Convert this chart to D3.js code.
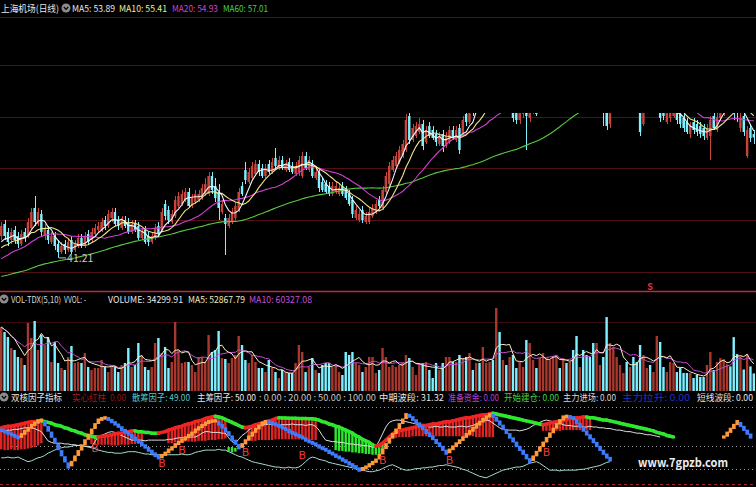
<!DOCTYPE html>
<html><head><meta charset="utf-8">
<script src="https://cdn.jsdelivr.net/npm/d3@7/dist/d3.min.js"></script>
<style>
html,body{margin:0;padding:0;background:#000;overflow:hidden}
svg{display:block}
text{font-family:"Liberation Sans Narrow","Noto Sans CJK SC","Liberation Sans",sans-serif}
</style></head><body>
<svg id="chart" width="756" height="487"></svg>
<script>
// ---------- daily candles: 上海机场 ----------
const opens = [
43.4,44.6,43.8,43.0,44.0,43.4,42.6,43.8,43.4,44.2,
46.2,44.6,45.6,43.4,44.0,42.8,43.4,42.6,41.8,42.6,
42.0,43.0,42.0,42.4,43.2,42.4,43.6,43.0,43.6,44.0,
44.0,45.0,44.4,45.2,45.8,45.0,44.2,45.0,44.8,43.8,
44.6,44.4,43.2,44.0,43.4,42.8,43.2,44.4,44.0,46.6,
46.0,44.8,45.4,46.4,46.6,47.0,47.8,46.4,46.8,47.0,
47.2,47.6,47.6,49.4,48.4,47.8,45.8,45.2,44.4,44.8,
45.2,46.0,48.4,50.0,48.8,49.2,49.6,50.6,50.2,49.4,
50.6,49.8,51.2,50.2,51.0,50.0,50.8,50.4,49.6,49.8,
49.4,51.4,50.0,50.6,49.2,49.8,48.8,48.6,48.4,47.6,
47.8,47.6,48.4,48.0,47.6,47.0,45.2,45.0,46.0,44.8,
44.8,45.4,45.8,47.0,46.2,47.8,48.6,50.0,50.4,50.8,
51.4,52.0,55.4,53.0,53.4,53.8,54.6,52.8,54.4,54.0,
53.6,52.6,53.6,52.4,52.8,54.0,53.0,54.2,53.6,55.6,
54.8,56.6,56.0,57.8,57.0,58.0,58.2,59.2,57.8,59.0,
57.0,57.8,56.2,57.0,56.2,55.0,55.6,56.6,55.2,56.0,
57.0,56.0,57.0,57.6,58.2,58.6,60.2,61.2,60.0,61.4,
60.4,62.0,61.6,60.2,61.4,60.6,60.0,59.4,58.2,58.8,
58.6,57.0,54.6,57.8,58.8,59.4,59.8,60.8,59.6,60.4,
59.4,57.0,54.6,56.0,57.4,56.6,56.0,57.4,56.2,54.8,
55.2,55.4,56.2,55.6,55.2,54.8,53.6,54.8,54.6,54.4,
54.2,53.2,53.4,55.4,54.0,55.2,55.8,56.6,57.8,57.4,
57.0,54.2,55.4,51.4,54.2,53.6];
const closes = [
44.4,43.4,42.8,43.8,43.0,42.6,43.6,43.2,44.8,45.8,
44.8,45.8,43.8,44.2,43.0,43.4,42.4,41.8,42.4,42.0,
42.8,41.8,42.6,43.2,42.4,43.4,42.8,43.8,44.2,44.4,
44.8,44.4,45.6,45.8,44.6,44.4,45.0,44.4,43.8,44.6,
44.0,43.2,43.8,42.8,42.8,43.4,44.2,43.6,45.8,45.4,
45.0,45.6,47.0,47.4,47.6,47.8,46.4,47.2,47.6,47.6,
48.2,48.6,49.4,48.0,47.2,46.2,46.6,44.6,45.2,45.8,
46.4,47.8,47.6,49.0,49.8,50.4,50.6,49.8,49.4,50.2,
49.8,50.8,50.4,51.0,50.2,50.6,50.0,49.8,50.4,51.0,
51.4,50.2,51.0,49.4,49.8,48.2,48.0,47.8,47.6,48.4,
48.4,48.2,47.6,47.2,46.6,45.6,46.0,45.6,45.0,45.4,
45.8,46.2,46.6,46.4,48.0,49.4,50.4,51.0,51.4,52.0,
52.6,55.0,53.0,54.2,54.4,54.6,52.4,54.0,53.4,53.2,
52.8,53.4,52.4,53.4,54.0,53.2,54.0,52.0,55.0,54.8,
56.2,55.8,57.4,57.0,58.4,58.8,59.2,58.2,59.0,57.4,
57.8,56.6,57.0,55.2,55.0,56.2,56.6,55.4,56.6,57.0,
55.6,57.4,58.0,58.6,59.0,59.4,61.0,60.2,61.2,60.4,
61.6,60.8,60.2,61.2,60.2,59.6,59.0,58.2,59.2,59.6,
56.6,54.4,56.0,59.0,59.8,60.2,60.6,59.8,60.4,59.2,
58.4,53.8,56.0,57.2,56.6,57.6,57.4,55.2,55.4,55.8,
56.2,56.4,55.0,54.6,54.2,53.8,54.4,54.0,53.8,53.6,
53.4,54.2,55.0,54.2,55.3,56.6,57.0,57.6,57.0,56.6,
56.45,55.2,53.8,54.0,53.2,53.25];
const highs = [
44.8,45.0,44.2,44.2,44.4,43.8,44.0,44.2,45.2,46.2,
47.4,46.2,46.0,44.6,44.4,43.8,43.8,43.0,42.8,43.0,
43.2,43.4,43.0,43.6,43.6,43.8,44.0,44.2,44.6,44.8,
45.2,45.4,46.0,46.2,46.2,45.4,45.4,45.4,45.2,45.0,
45.0,44.8,44.2,44.4,43.8,43.8,44.6,44.8,46.2,47.0,
46.4,46.0,47.4,47.8,48.0,48.2,48.2,47.6,48.0,48.0,
48.6,49.2,49.8,49.8,49.2,48.6,47.0,45.6,45.6,46.2,
46.8,48.2,48.8,50.8,50.2,50.8,51.0,51.0,50.6,50.6,
51.0,51.2,52.2,51.4,51.4,51.0,51.2,50.8,50.8,51.4,
51.8,51.8,51.4,51.0,50.2,50.2,49.2,49.0,48.8,48.8,
48.8,48.6,48.8,48.4,48.0,47.4,46.4,46.0,46.4,45.8,
46.2,46.6,47.0,47.4,48.4,49.8,50.8,51.4,51.8,52.4,
53.0,55.6,56.4,54.6,54.8,55.2,55.0,54.4,54.8,54.4,
54.0,53.8,54.0,53.8,54.4,54.4,54.4,54.6,55.4,56.2,
56.6,57.2,57.8,58.4,58.8,59.2,59.6,59.6,59.6,59.4,
58.2,58.2,57.4,57.4,56.6,56.6,57.0,57.0,57.0,57.4,
57.4,57.8,58.4,59.0,59.4,59.8,61.4,61.6,61.6,61.8,
62.0,62.4,62.0,61.6,61.8,61.0,60.4,59.8,59.6,60.0,
59.0,57.6,56.6,59.4,60.2,60.6,61.0,61.2,60.8,60.8,
59.8,57.4,56.6,57.6,57.8,58.0,57.8,57.8,56.6,56.2,
56.6,56.8,56.6,56.0,55.6,55.2,54.8,55.2,55.0,54.8,
54.6,54.6,55.4,55.8,55.8,57.0,57.4,58.0,58.2,57.8,
57.4,57.0,56.0,54.4,54.6,54.0];
const lows = [
43.0,43.0,42.4,42.6,42.6,42.2,42.4,42.8,43.2,44.0,
44.4,44.4,43.4,43.0,42.6,42.6,42.0,41.21,41.6,41.6,
41.8,41.6,41.8,42.2,42.2,42.2,42.6,42.8,43.4,43.8,
43.8,44.0,44.2,44.8,44.4,44.0,44.0,44.2,43.6,43.6,
43.8,43.0,43.0,42.6,42.4,42.6,43.0,43.4,43.8,45.0,
44.6,44.6,45.2,46.2,46.4,46.8,46.2,46.2,46.6,46.8,
47.0,47.4,47.4,47.6,46.8,45.0,45.6,41.5,44.2,44.6,
45.0,45.8,47.4,48.6,48.6,49.0,49.4,49.4,49.2,49.2,
49.6,49.6,50.2,50.0,50.0,49.8,49.8,49.6,49.4,49.4,
49.2,50.0,49.8,49.2,49.0,47.8,47.8,47.6,47.4,47.4,
47.6,47.4,47.4,47.0,46.4,45.2,45.0,44.8,44.7,44.6,
44.6,45.2,45.6,46.2,46.0,47.6,48.4,49.8,50.2,50.6,
51.2,51.8,52.6,52.8,53.2,53.6,52.0,52.6,53.2,53.0,
52.4,52.4,51.8,52.2,52.6,53.0,52.8,51.6,53.4,54.4,
54.6,55.4,55.8,56.6,56.6,57.6,57.8,57.8,57.4,57.0,
56.6,56.2,56.0,54.8,54.6,54.6,55.2,52.0,54.8,55.6,
55.4,55.8,56.6,57.2,57.8,58.2,59.8,59.8,59.6,60.0,
60.2,60.4,59.8,60.0,59.8,59.2,58.6,57.8,57.8,58.4,
54.4,54.0,54.2,57.4,58.4,59.0,59.4,59.4,59.2,58.8,
58.0,53.4,54.4,55.8,56.4,56.4,55.8,54.8,55.0,54.6,
54.8,55.2,54.6,54.2,53.8,53.6,53.2,53.6,53.4,53.2,
53.0,53.0,51.0,54.0,53.8,55.0,55.4,56.2,56.6,55.0,
54.8,53.8,53.4,51.2,52.8,52.6];
// closes of the 59 sessions before the first candle (feed the moving averages)
const priorCloses = [
38.2,38.5,38.1,37.8,38.0,38.4,38.6,38.3,37.9,37.6,37.8,38.1,38.5,38.8,38.6,38.2,37.9,38.0,38.3,38.7,
39.0,38.8,38.4,38.1,37.9,38.2,38.6,38.9,39.1,38.8,38.5,38.3,38.6,38.9,39.2,39.0,38.7,38.9,39.3,
39.1,38.9,39.3,39.7,39.5,40.0,40.4,40.1,40.5,40.9,40.7,41.2,41.6,41.3,41.8,42.2,42.0,42.5,42.8,42.4];
const volumes = [
124800,115050,105300,83850,79950,66300,64350,50700,132600,103350,
136500,79950,109200,89700,105300,56550,95550,54600,44850,40950,
66300,87750,54600,56550,54600,74100,46800,40950,44850,44850,
60450,46800,37050,50700,46800,37050,50700,54600,83850,46800,
50700,93600,70200,46800,40950,46800,93600,103350,74100,85800,
44850,56550,134550,79950,54600,56550,56550,50700,37050,66300,
66300,56550,109200,76050,79950,117000,64350,62400,54600,64350,
70200,107250,89700,60450,54600,70200,56550,44850,44850,37050,
60450,44850,37050,25350,40950,37050,35100,35100,54600,89700,
76050,37050,46800,64350,40950,35100,50700,54600,54600,46800,
50700,37050,31200,76050,70200,76050,54600,50700,37050,46800,
66300,66300,35100,40950,83850,66300,46800,50700,46800,50700,
56550,70200,64350,46800,31200,54600,54600,56550,40950,25350,
54600,40950,54600,66300,66300,56550,56550,70200,64350,66300,
74100,40950,54600,54600,85800,54600,56550,60450,161850,115050,
60450,50700,66300,70200,44850,56550,46800,99450,93600,60450,
44850,64350,74100,64350,60450,66300,70200,44850,64350,54600,
56550,79950,107250,46800,79950,70200,66300,93600,93600,50700,
66300,144300,93600,85800,66300,50700,35100,56550,46800,66300,
56550,89700,70200,44850,50700,37050,107250,95550,46800,37050,
56550,54600,37050,44850,35100,35100,35100,25350,31200,27300,
27300,50700,76050,40950,56550,64350,62000,52000,48000,105000,
71931.85,68000,42000,72000,48039.04,34299.91];

// ---------- 双核因子指标 ----------
const midWave = [
73,74,75,75,76,77,78,79,80,81,81,82,
82,81,80,79,77,76,75,73,
72,70,69,67,66,64,63,62,61,
61,62,62,63,64,65,66,66,67,68,69,
69,68,68,67,67,66,66,66,
67,68,70,71,73,74,75,77,78,79,81,82,83,85,86,87,88,
87,86,84,82,80,78,76,74,73,
74,75,77,78,79,81,82,83,85,86,
85.8,85.6,85.5,85.4,85.3,85.2,85.1,85,84.8,84.6,
84,83,81,80,78,77,75,74,72,70,
68,66,63,61,58,56,54,51,49,
50,53,57,61,65,68,
69,70,71,72,73,74,75,76,76,77,78,78,79,80,81,81,82,83,84,85,86,86,87,88,89,90,90,91,92,
91,90,89,88,87,86,85,84,83,82,81,80,79,78,77,
78,79,80,81,82,83,84,85,85,86,86,87,
87,86,86,85,84,83,83,82,81,80,79,78,77,76,75,74,73,72,71,70,69,67,66,65,63,62,61];
const whiteLine = [
68,69,70,70,71,71, 72,73,73,73, 72,70,68, 62,56,54,53, 53,53,52,52,51, 51,50,50,49,49,48,
55,61, 63,65,67,68,67, 65,63,61,59,57, 57,57,57,56,57,57,57,57,57,57,
58,58,59,60,60,60,61,61,61, 63,66,68, 68,67,67,67,66,66, 60,55,53, 58,63,66, 70,73,76,77,
77,77,78,77,77,76,77,77,77,78,77,77,77,76,77,77, 75,70,63, 57,56,55,55,54,54,53,
52,52,51,51,50,50,49,48,48, 56,65,74,80, 82,83,83,82,81, 80,79,78,77,76,75,
74,74,75,74,74,75,74,74,74,75,75,74,75,76,78, 80,82,83, 82,79,76,73,71,70,70,
70,70,69,70,71, 73,76,78,80,82,83, 82,81,80, 79,77,76,76,75,75,
75,74,74,75,74,74,73,73,72,72, 71,70,70,69,68,68,67,66,66,65,64,64,63,62,61];
const cyanLine = [
34,34,35,34,34,35, 33,31,29,30, 32,34,35, 37,40,42,44,46,47,48, 48,49,50,50,51,
49,48,47,46,44, 43,42,41,41,40,40, 40,41,42,42,42,41, 40,39,39,38,38,38,38,38,
38,38,38,38,39,38,38, 39,41,42,43,44, 44,44,44,45,44,44, 42,40,38,36,35,
33,31,29,28,27, 26,25,24,23,22,22, 21,21,22,21,21,22, 25,29,33,35, 34,32,31,30,
28,27,26,25,24, 23,22,21,20,19,18,17,16, 16,17,18,20, 22,24,25, 23,21,19,18,
18,19,20,20,21,21, 22,22,23,24,24,25, 24,23,22,21,19,18, 16,14,12,10,9,8,
10,12,14,16,18, 19,20,21,22,22, 23,25,27,28,29, 27,24,21,18,
18,18,17,18,18,18,18,18, 19,19,20,21,22, 23,24,26,28,29];
// 中期波段
const swingWave = [
70, 68,66,64,62,60, 64,68,72,76,79,82, 83, 77,70,62,54,46,38,30,22,
28,35,42,49,56,63,70,77,83, 85,86,
84,81,78,75,71,68,65,61,58,55,51,48,44,41,37,34,
37,40,44,47,51,54,57,60,63,66,70,73,76,79, 81,82,82,
78,74,69,64,58,53,47, 51,56,61,66,71,75,79,81,
80,79,77,75,73,71,68,66,64,62,60,57,55,53,51,48,46,44,41,39,36,34,31,29,26,24,21,18,
20,22,25,28,31, 37,44,51,58,64,70,77,83,90,
88,84,80,76,72,67,63,59,54,50,45,40,
44,48,52,56,60,64,68,72,76,80,84,87,90,
88,83,78,72,67,61,56,50,45,40,34,29,
35,41,47,53,59,65,71,77,82,87, 88,87,85,
80,75,70,65,60,55,50,45,40,35,31.32];
// 短线波段
const shortWaveStart = 216;
const shortWave = [61,66,71,76,81,76,71,66,61];
// histogram blocks; a block without "top" hangs from midWave
const histBlocks = [
  {kind:"red", start:0, bottom:[45,44,44,45,44,44,45,45,46,47,48,50,53]},
  {kind:"red", start:27, bottom:[52,52,51,51,51,51,50,50,50,51,51,51,52,52,52,53]},
  {kind:"red", start:50, bottom:[53,53,54,54,54,55,55,55,55,56,56,56,57,57,57,58,58,59]},
  {kind:"green", start:68, top:[48,48,47], bottom:[42,41,42]},
  {kind:"red", start:74, bottom:[56,56,56,57,57,57,57,57,58,58,58,58,58,58,58,58,58,58,58,57,57]},
  {kind:"green", start:100, bottom:[44,43,43,42,42,41,41,40,40,39,39,38,38,38,39]},
  {kind:"red", start:117, bottom:[60,60,61,61,61,61,62,62,62,62,62,62,62,62,62,62,62,62,62,62,62,62,62,62,62,61,61,61,61,61,61]},
  {kind:"red", start:162, bottom:[69,69,69,69,69,69,70,70,70,70,70,70,70,70,70]}
];
// buy signals: [bar index, level]
const buySignals = [[28,47],[48,27],[54,44],[73,42],[90,38],[114,31],[134,31],[163,42]];
const refLevels = [0, 20, 50, 100];
const priceGrid = [65.3, 60.5, 55.3, 50.2, 45.0, 39.8];

// ---------- drawing ----------
const svg = d3.select("#chart");
const W = 756, H = 487;
svg.append("rect").attr("width", W).attr("height", H).attr("fill", "#000");

const N = closes.length;
const xb = d3.scaleBand().domain(d3.range(N)).range([0, 755]).paddingInner(0.28);
const cx = i => xb(i) + xb.bandwidth() / 2;
const RED = "#c8443a", CYAN = "#7ff0ff";
const isUp = i => closes[i] >= opens[i];

const defs = svg.append("defs");
function clip(id, y, h) {
  defs.append("clipPath").attr("id", id).append("rect").attr("x", 0).attr("y", y).attr("width", W).attr("height", h);
  return "url(#" + id + ")";
}

// price panel
const yP = d3.scaleLinear().domain([39.5, 65]).range([275, 20]);
svg.append("g").selectAll("line").data(priceGrid).join("line")
  .attr("x1", 0).attr("x2", W).attr("y1", d => Math.round(yP(d)) + 0.5).attr("y2", d => Math.round(yP(d)) + 0.5)
  .attr("stroke", "#501014").attr("stroke-width", 1);

const gP = svg.append("g").attr("clip-path", clip("cp", 113, 176));
const candles = gP.selectAll("g").data(d3.range(N)).join("g");
candles.append("line")
  .attr("x1", i => Math.round(cx(i)) + 0.5).attr("x2", i => Math.round(cx(i)) + 0.5)
  .attr("y1", i => yP(highs[i])).attr("y2", i => yP(lows[i]))
  .attr("stroke", i => isUp(i) ? RED : CYAN).attr("stroke-width", 1);
candles.append("rect")
  .attr("x", i => xb(i)).attr("width", xb.bandwidth())
  .attr("y", i => yP(Math.max(opens[i], closes[i])))
  .attr("height", i => Math.max(1, Math.abs(yP(opens[i]) - yP(closes[i]))))
  .attr("fill", i => isUp(i) ? RED : CYAN);

const allCloses = priorCloses.concat(closes);
const off = priorCloses.length;
function priceMA(n) {
  return d3.range(N).map(i => d3.mean(allCloses.slice(i + off - n + 1, i + off + 1)));
}
const maDefs = [[60, "#58c840"], [20, "#d040d0"], [10, "#f0e68c"], [5, "#f4f4f4"]];
const lineP = d3.line().x((d, i) => cx(i)).y(d => yP(d));
maDefs.forEach(([n, col]) => {
  gP.append("path").attr("d", lineP(priceMA(n))).attr("fill", "none").attr("stroke", col).attr("stroke-width", 1.1);
});

// lowest low marker
const lowIdx = d3.minIndex(lows);
svg.append("line").attr("x1", cx(lowIdx) + 1).attr("x2", cx(lowIdx) + 8)
  .attr("y1", yP(lows[lowIdx])).attr("y2", yP(lows[lowIdx])).attr("stroke", "#c8c8c8");
svg.append("text").attr("x", cx(lowIdx) + 9).attr("y", yP(lows[lowIdx]) + 4)
  .attr("fill", "#c8c8c8").attr("font-size", 10.5).text(lows[lowIdx].toFixed(2));

// panel separator
svg.append("line").attr("x1", 0).attr("x2", W).attr("y1", 291.5).attr("y2", 291.5)
  .attr("stroke", "#c02848").attr("stroke-width", 1.5);
svg.append("text").attr("x", cx(194)).attr("y", 290).attr("text-anchor", "middle")
  .attr("fill", "#e03030").attr("font-size", 9).attr("font-weight", "bold").text("S");

// volume panel
const yV = d3.scaleLinear().domain([0, 171600]).range([391, 303]);
svg.append("line").attr("x1", 0).attr("x2", W).attr("y1", 322.5).attr("y2", 322.5).attr("stroke", "#3c0c0e");
const gV = svg.append("g").attr("clip-path", clip("cv", 303, 88));
gV.selectAll("rect").data(d3.range(N)).join("rect")
  .attr("x", xb).attr("width", xb.bandwidth())
  .attr("y", i => yV(volumes[i])).attr("height", i => yV(0) - yV(volumes[i]))
  .attr("fill", i => isUp(i) ? "#a8382e" : CYAN);
function volMA(n) {
  return d3.range(N).map(i => d3.mean(volumes.slice(Math.max(0, i - n + 1), i + 1)));
}
const lineV = d3.line().x((d, i) => cx(i)).y(d => yV(d));
gV.append("path").attr("d", lineV(volMA(10))).attr("fill", "none").attr("stroke", "#c050d0").attr("stroke-width", 1);
gV.append("path").attr("d", lineV(volMA(5))).attr("fill", "none").attr("stroke", "#f4f0c8").attr("stroke-width", 1);

// indicator panel
const yI = d3.scaleLinear().domain([0, 100]).range([484, 407]);
svg.append("g").selectAll("line").data(refLevels).join("line")
  .attr("x1", 0).attr("x2", W).attr("y1", d => Math.round(yI(d)) + 0.5).attr("y2", d => Math.round(yI(d)) + 0.5)
  .attr("stroke", d => d === 0 ? "#a02830" : "#9a9a9a")
  .attr("stroke-dasharray", d => d === 0 ? "3,3" : "1,3");
const gI = svg.append("g").attr("clip-path", clip("ci", 403, 84));
histBlocks.forEach(b => {
  b.bottom.forEach((bot, k) => {
    const i = b.start + k;
    const top = b.top ? b.top[k] : midWave[i];
    gI.append("rect").attr("x", xb(i)).attr("width", xb.bandwidth())
      .attr("y", yI(Math.max(top, bot))).attr("height", Math.abs(yI(top) - yI(bot)))
      .attr("fill", b.kind === "red" ? "#e02424" : "#2ee82e");
  });
});
const lineI = d3.line().x((d, i) => cx(i)).y(d => yI(d));
gI.append("path").attr("d", lineI(cyanLine)).attr("fill", "none").attr("stroke", "#a6dcd8").attr("stroke-width", 1);
gI.append("path").attr("d", lineI(whiteLine)).attr("fill", "none").attr("stroke", "#e0e0e0").attr("stroke-width", 1);

// thick trend line: red while rising, green while falling
let rising = true;
for (let i = 1; i < midWave.length; i++) {
  if (midWave[i] > midWave[i - 1]) rising = true; else if (midWave[i] < midWave[i - 1]) rising = false;
  gI.append("line").attr("x1", cx(i - 1)).attr("x2", cx(i)).attr("y1", yI(midWave[i - 1])).attr("y2", yI(midWave[i]))
    .attr("stroke", rising ? "#f02424" : "#2ee82e").attr("stroke-width", 3.5).attr("stroke-linecap", "round");
}
// stepped swing lines: a block per session, orange while rising, blue while falling
function drawSwing(vals, start) {
  const s = xb.step();
  for (let k = 0; k < vals.length; k++) {
    const up = k === 0 ? vals[1] >= vals[0] : vals[k] >= vals[k - 1];
    const col = up ? "#ff9a3a" : "#3d7cff";
    const i = start + k;
    const y0 = k === 0 ? yI(vals[k]) : yI(vals[k - 1]);
    const y1 = yI(vals[k]);
    gI.append("rect").attr("x", cx(i) - s / 2).attr("width", s + 0.3)
      .attr("y", Math.min(y0, y1) - 1.6).attr("height", Math.abs(y1 - y0) / 2 + 3.2)
      .attr("transform", up ? null : `translate(0,${Math.abs(y1 - y0) / 2})`)
      .attr("fill", col);
  }
}
drawSwing(swingWave, 0);
drawSwing(shortWave, shortWaveStart);
gI.selectAll("text.b").data(buySignals).join("text").attr("class", "b")
  .attr("x", d => cx(d[0])).attr("y", d => yI(d[1]) + 4).attr("text-anchor", "middle")
  .attr("fill", "#ff3a3a").attr("font-size", 11).attr("font-family", "Liberation Sans").text("B");

svg.append("text").attr("x", 638).attr("y", 467).attr("fill", "#ececec")
  .attr("font-size", 12.5).attr("font-weight", "bold").attr("font-family", "Liberation Sans")
  .attr("textLength", 90).attr("lengthAdjust", "spacingAndGlyphs")
  .text("www.7gpzb.com");

// ---------- header rows ----------
function icon(x, y) {
  svg.append("circle").attr("cx", x).attr("cy", y).attr("r", 4.5).attr("fill", "#8c8c8c");
  svg.append("path").attr("d", `M${x - 2.2},${y - 1} L${x},${y + 1.4} L${x + 2.2},${y - 1}`)
    .attr("fill", "none").attr("stroke", "#000").attr("stroke-width", 1.2);
}
function label(items, y) {
  const g = svg.append("g").attr("font-size", 9.5);
  items.forEach(([x, t, c, w, fs]) => g.append("text").attr("x", x).attr("y", y).attr("fill", c)
    .attr("font-size", fs || null)
    .attr("textLength", w).attr("lengthAdjust", "spacingAndGlyphs").text(t));
}
svg.append("rect").attr("x", 0).attr("y", 391).attr("width", W).attr("height", 12).attr("fill", "#000");
label([[1, "上海机场(日线)", "#e6e6e6", 58]], 12);
icon(66, 8);
label([[72, "MA5: 53.89", "#e6e6e6", 43], [119, "MA10: 55.41", "#ecec9c", 48], [172, "MA20: 54.93", "#d040d0", 46], [223, "MA60: 57.01", "#48d048", 45]], 12);
icon(4, 299);
label([[11, "VOL-TDX(5,10)", "#d8d8d8", 50, 8.5], [64, "VVOL: -", "#d8d8d8", 22], [108, "VOLUME: 34299.91", "#e6e6e6", 75],
       [188, "MA5: 52867.79", "#ecebc0", 57], [249, "MA10: 60327.08", "#c050d0", 63]], 303);
icon(4, 397);
label([[11, "双核因子指标", "#e6e6e6", 51], [72, "实心红柱", "#a01c1c", 34], [110, "0.00", "#901818", 16],
       [132, "散筹因子: 49.00", "#50c8c8", 58], [197, "主筹因子: 50.00", "#e6e6e6", 59], [259, ": 0.00 : 20.00 : 50.00 : 100.00", "#c8c8c8", 117],
       [379, "中期波段: 31.32", "#e6e6e6", 65], [448, "准备资金: 0.00", "#b040d0", 51], [504, "开始建仓: 0.00", "#40d040", 55],
       [563, "主力进场: 0.00", "#d8d8d8", 53], [622, "主力拉升: 0.00", "#2030c8", 68], [697, "短线波段: 0.00", "#e6e6e6", 56, 8.8]], 401);
</script>
</body></html>
